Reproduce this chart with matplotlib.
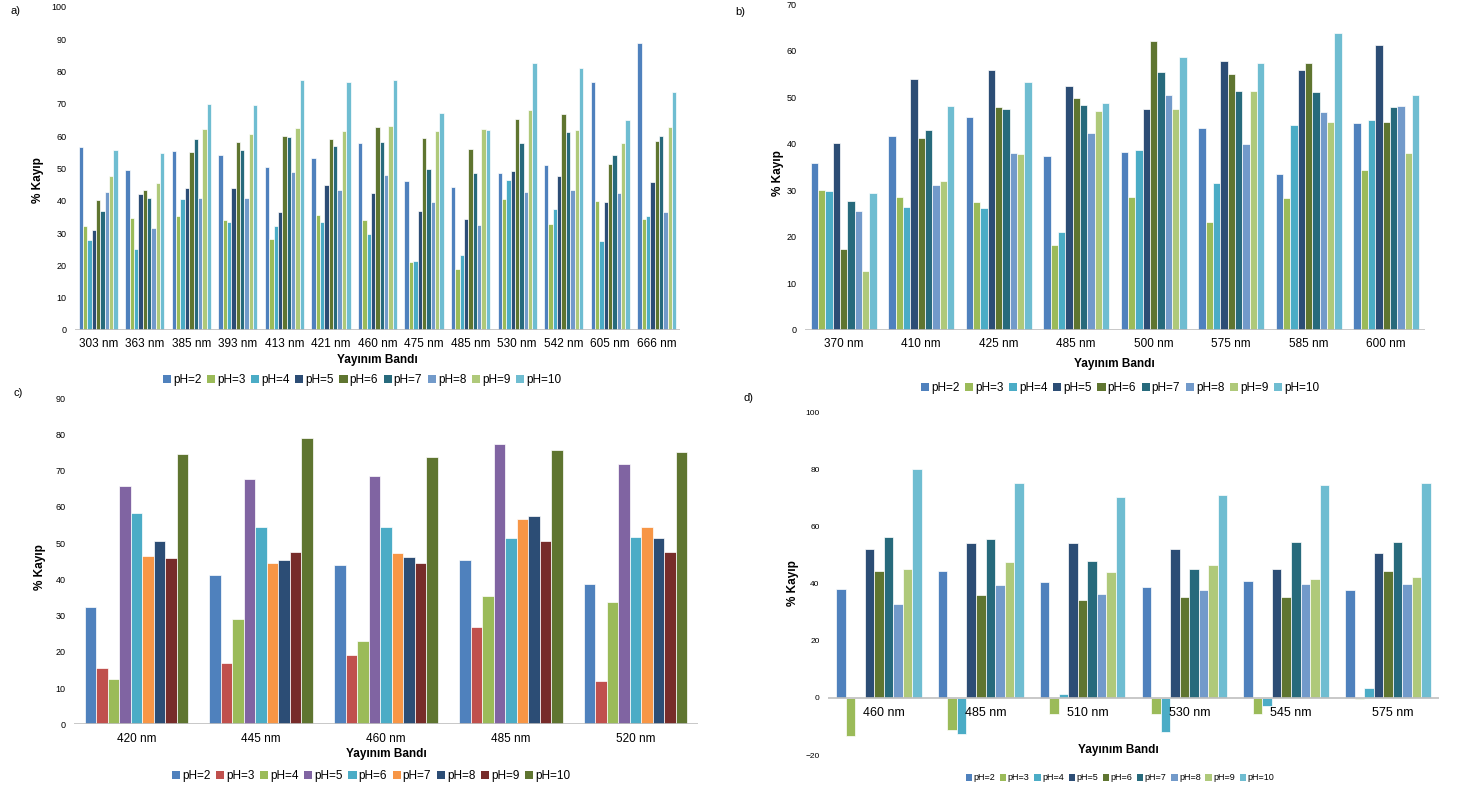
import numpy as np
import matplotlib
matplotlib.use('Agg')
import matplotlib.pyplot as plt
import matplotlib.transforms as mtransforms
from matplotlib.patches import Patch

plt.rcParams['font.family'] = ['Liberation Sans', 'DejaVu Sans']

W, H = 1483, 798

ph_labels = ['pH=%d' % p for p in range(2, 11)]

# colour sets (Office palette)
colors_abd = ['#4F81BD', '#9BBB59', '#4BACC6', '#2C4D75', '#5F7530',
              '#276A7C', '#729ACA', '#AFC97A', '#6FBDD1']
colors_c = ['#4F81BD', '#C0504D', '#9BBB59', '#8064A2', '#4BACC6',
            '#F79646', '#2C4D75', '#772C2A', '#5F7530']

# ---- panel a ----
bands_a = ['303 nm', '363 nm', '385 nm', '393 nm', '413 nm', '421 nm', '460 nm',
           '475 nm', '485 nm', '530 nm', '542 nm', '605 nm', '666 nm']
vals_a = np.array([
    [56.6, 32.3, 27.8, 30.8, 40.1, 36.8, 42.6, 47.5, 55.7],
    [49.5, 34.6, 25.1, 42.0, 43.3, 40.7, 31.6, 45.5, 54.9],
    [55.3, 35.4, 40.4, 44.0, 55.1, 59.1, 40.7, 62.1, 69.8],
    [54.1, 34.0, 33.4, 44.0, 58.1, 55.8, 40.9, 60.5, 69.6],
    [50.4, 28.1, 32.2, 36.6, 60.0, 59.7, 48.9, 62.5, 77.3],
    [53.2, 35.7, 33.5, 44.7, 59.2, 56.9, 43.4, 61.6, 76.8],
    [57.9, 34.0, 29.7, 42.5, 62.8, 58.1, 48.0, 63.1, 77.3],
    [46.2, 21.0, 21.3, 36.8, 59.5, 49.8, 39.7, 61.5, 67.2],
    [44.3, 18.9, 23.1, 34.2, 56.1, 48.6, 32.4, 62.2, 61.8],
    [48.6, 40.4, 46.3, 49.3, 65.2, 57.7, 42.7, 67.9, 82.5],
    [51.0, 32.7, 37.4, 47.6, 66.7, 61.1, 43.4, 61.8, 81.0],
    [76.8, 39.9, 27.5, 39.6, 51.3, 54.0, 42.4, 57.7, 64.9],
    [88.9, 34.3, 35.3, 45.7, 58.5, 60.0, 36.5, 62.7, 73.6],
])

# ---- panel b ----
bands_b = ['370 nm', '410 nm', '425 nm', '485 nm', '500 nm', '575 nm', '585 nm', '600 nm']
vals_b = np.array([
    [35.9, 30.1, 29.9, 40.1, 17.4, 27.8, 25.6, 12.7, 29.5],
    [41.6, 28.6, 26.4, 53.9, 41.2, 43.0, 31.1, 32.1, 48.0],
    [45.7, 27.5, 26.1, 55.8, 47.8, 47.5, 37.9, 37.8, 53.3],
    [37.3, 18.3, 21.0, 52.4, 49.8, 48.4, 42.4, 47.0, 48.7],
    [38.2, 28.6, 38.6, 47.5, 62.0, 55.4, 50.5, 47.5, 58.7],
    [43.4, 23.1, 31.5, 57.8, 55.0, 51.3, 39.9, 51.3, 57.4],
    [33.4, 28.3, 44.1, 55.8, 57.3, 51.0, 46.8, 44.7, 63.7],
    [44.5, 34.4, 45.0, 61.1, 44.7, 47.9, 48.0, 38.0, 50.5],
])

# ---- panel c ----
bands_c = ['420 nm', '445 nm', '460 nm', '485 nm', '520 nm']
vals_c = np.array([
    [32.5, 15.6, 12.6, 65.7, 58.2, 46.5, 50.7, 45.8, 74.7],
    [41.3, 16.8, 29.1, 67.6, 54.4, 44.6, 45.4, 47.6, 79.1],
    [43.9, 19.1, 22.9, 68.6, 54.5, 47.2, 46.2, 44.5, 73.7],
    [45.4, 26.9, 35.5, 77.3, 51.3, 56.6, 57.6, 50.5, 75.8],
    [38.6, 11.9, 33.7, 71.8, 51.7, 54.5, 51.4, 47.6, 75.3],
])

# ---- panel d ----
bands_d = ['460 nm', '485 nm', '510 nm', '530 nm', '545 nm', '575 nm']
vals_d = np.array([
    [38.1, -13.4, 0.0, 52.3, 44.5, 56.4, 32.9, 45.0, 80.1],
    [44.4, -11.1, -12.5, 54.2, 36.1, 55.8, 39.5, 47.7, 75.3],
    [40.7, -5.6, 1.2, 54.2, 34.4, 48.0, 36.4, 44.1, 70.2],
    [39.0, -5.6, -12.0, 52.3, 35.3, 45.0, 37.9, 46.5, 70.9],
    [41.1, -5.6, -2.9, 45.3, 35.2, 54.7, 39.9, 41.7, 74.4],
    [37.8, -0.5, 3.4, 50.8, 44.5, 54.7, 39.9, 42.4, 75.2],
])

fig = plt.figure(figsize=(W / 100, H / 100), dpi=100)


def px_axes(l, t, r, b):
    return fig.add_axes([l / W, 1 - b / H, (r - l) / W, (b - t) / H])


def bar_panel(ax, bands, vals, colors, ylim, yticks,
              ytick_fs=6.5, xtick_fs=8.5, group=0.84):
    n = len(bands)
    k = vals.shape[1]
    w = group / k
    x = np.arange(n)
    for j in range(k):
        ax.bar(x - group / 2 + w * (j + 0.5), vals[:, j], width=w, color=colors[j],
               edgecolor='white', linewidth=0.5, zorder=2)
    ax.set_xlim(-0.5, n - 0.5)
    ax.set_ylim(*ylim)
    ax.axhline(0, color='#BFBFBF', lw=1.2, zorder=3)
    for s in ax.spines.values():
        s.set_visible(False)
    ax.set_yticks(yticks)
    ax.set_xticks(x)
    ax.set_xticklabels(bands)
    ax.tick_params(axis='y', length=0, pad=6, labelsize=ytick_fs)
    ax.tick_params(axis='x', length=0, pad=6, labelsize=xtick_fs)
    return ax


def legend_at(cx, cy, colors, fs=8.5, colsp=0.48):
    handles = [Patch(facecolor=c, edgecolor='none') for c in colors]
    fig.legend(handles, ph_labels, loc='center', bbox_to_anchor=(cx / W, 1 - cy / H),
               ncol=9, frameon=False, fontsize=fs, handlelength=0.7, handleheight=0.7,
               handletextpad=0.15, columnspacing=colsp, borderpad=0)


def side_texts(label, lx, ly, ylx, yly, xlx, xly, fs=8.5):
    fig.text(lx / W, 1 - ly / H, label, fontsize=8, ha='center', va='center')
    fig.text(ylx / W, 1 - yly / H, '% Kayıp', fontsize=fs, fontweight='bold',
             rotation=90, ha='center', va='center')
    fig.text(xlx / W, 1 - xly / H, 'Yayınım Bandı', fontsize=fs, fontweight='bold',
             ha='center', va='center')


ax_a = px_axes(75, 6.7, 680, 330)
bar_panel(ax_a, bands_a, vals_a, colors_abd, (0, 100), range(0, 101, 10))
side_texts('a)', 15, 11, 38, 180, 377, 360)
legend_at(362, 380, colors_abd)

ax_b = px_axes(805, 4, 1425, 330)
bar_panel(ax_b, bands_b, vals_b, colors_abd, (0, 70), range(0, 71, 10), group=0.85)
side_texts('b)', 740, 12, 778, 173, 1114, 364)
legend_at(1120, 388, colors_abd)

ax_c = px_axes(74, 398.3, 698, 724.3)
bar_panel(ax_c, bands_c, vals_c, colors_c, (0, 90), range(0, 91, 10), group=0.83)
side_texts('c)', 18, 393, 40, 567, 386, 754)
legend_at(371, 776, colors_c)

ax_d = px_axes(828, 412.3, 1439, 755)
bar_panel(ax_d, bands_d, vals_d, colors_abd, (-20, 100), range(-20, 101, 20),
          ytick_fs=6, xtick_fs=9)
ax_d.set_axisbelow(False)
ax_d.xaxis.set_zorder(5)
# category labels sit just under the zero line, slightly right of centre
shift = mtransforms.ScaledTranslation(5 / 100, 0, fig.dpi_scale_trans)
for lbl in ax_d.get_xticklabels():
    lbl.set_y(0.165)
    lbl.set_transform(lbl.get_transform() + shift)
side_texts('d)', 748, 398, 793, 583, 1118, 750)
legend_at(1120, 778, colors_abd, fs=6.5, colsp=0.53)

fig.savefig('out.png', dpi=100, facecolor='white')
